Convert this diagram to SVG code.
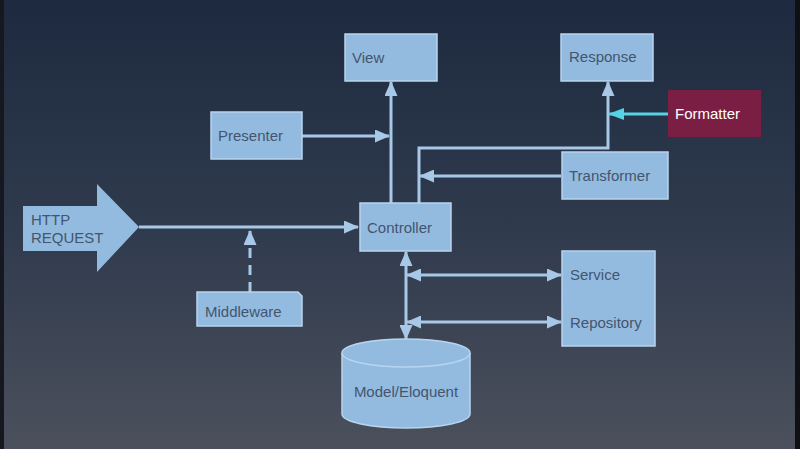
<svg xmlns="http://www.w3.org/2000/svg" width="800" height="449" viewBox="0 0 800 449">
<defs>
<linearGradient id="bg" x1="0" y1="0" x2="0" y2="1">
<stop offset="0" stop-color="#1d2a3f"/>
<stop offset="0.5" stop-color="#2f3a4d"/>
<stop offset="1" stop-color="#4b505c"/>
</linearGradient>
<marker id="ah" viewBox="0 0 15 13" refX="14" refY="6.5" markerWidth="15" markerHeight="13" markerUnits="userSpaceOnUse" orient="auto-start-reverse">
<path d="M0,0 L15,6.5 L0,13 Z" fill="#a7c8e6"/>
</marker>
<marker id="ahc" viewBox="0 0 16 12" refX="15" refY="6" markerWidth="16" markerHeight="12" markerUnits="userSpaceOnUse" orient="auto-start-reverse">
<path d="M0,0 L16,6 L0,12 Z" fill="#56d2e6"/>
</marker>
</defs>
<style>
.box{fill:#93bbe0;stroke:#b9d4ee;stroke-width:1.5}
.t{font-family:"Liberation Sans",Arial,sans-serif;font-size:15px;fill:#44556d}
.ln{fill:none;stroke:#a7c8e6;stroke-width:3}
</style>
<rect x="0" y="0" width="800" height="449" fill="url(#bg)"/>
<rect x="0" y="0" width="4" height="449" fill="#15181e"/>
<rect x="795" y="0" width="5" height="449" fill="#0e1014"/>

<g id="connectors">
<path class="ln" d="M139,227 L358,227" marker-end="url(#ah)"/>
<path class="ln" d="M250,292 L250,231" stroke-dasharray="10,7" marker-end="url(#ah)"/>
<path class="ln" d="M391,203 L391,82" marker-end="url(#ah)"/>
<path class="ln" d="M302,136 L389,136" marker-end="url(#ah)"/>
<path class="ln" d="M419,203 L419,148 L608,148 L608,82" marker-end="url(#ah)"/>
<path class="ln" d="M561,176 L420,176" marker-end="url(#ah)"/>
<path d="M668,114 L609,114" fill="none" stroke="#56d2e6" stroke-width="3" marker-end="url(#ahc)"/>
<path class="ln" d="M406,252 L406,339" marker-start="url(#ah)" marker-end="url(#ah)"/>
<path class="ln" d="M407,275 L561,275" marker-start="url(#ah)" marker-end="url(#ah)"/>
<path class="ln" d="M407,322 L561,322" marker-start="url(#ah)" marker-end="url(#ah)"/>
</g>

<g id="http-request">
<path d="M23,206 L97,206 L97,184 L139,227 L97,272 L97,251 L23,251 Z" fill="#93bbe0"/>
<text class="t" x="31" y="225">HTTP</text>
<text class="t" x="31" y="243">REQUEST</text>
</g>
<g id="view">
<rect class="box" x="345" y="34" width="92" height="47"/>
<text class="t" x="352" y="63">View</text>
</g>
<g id="response">
<rect class="box" x="561" y="34" width="92" height="47"/>
<text class="t" x="569" y="62">Response</text>
</g>
<g id="formatter">
<rect x="668" y="90" width="93" height="47" fill="#7a1f43"/>
<text x="675" y="119" font-family="Liberation Sans,Arial,sans-serif" font-size="15" fill="#ffffff">Formatter</text>
</g>
<g id="presenter">
<rect class="box" x="211" y="112" width="91" height="47"/>
<text class="t" x="218" y="141">Presenter</text>
</g>
<g id="transformer">
<rect class="box" x="562" y="152" width="106" height="47"/>
<text class="t" x="569" y="181">Transformer</text>
</g>
<g id="controller">
<rect class="box" x="360" y="203" width="91" height="48"/>
<text class="t" x="367" y="233">Controller</text>
</g>
<g id="middleware">
<path class="box" d="M197,292 L298,292 L302,296 L302,326 L197,326 Z"/>
<text class="t" x="205" y="317">Middleware</text>
</g>
<g id="service-repository">
<rect class="box" x="562" y="251" width="93" height="95"/>
<text class="t" x="570" y="280">Service</text>
<text class="t" x="570" y="328">Repository</text>
</g>
<g id="model">
<path class="box" d="M342,353 A64,14 0 0 1 470,353 L470,414 A64,14 0 0 1 342,414 Z"/>
<path d="M342,353 A64,14 0 0 0 470,353" fill="none" stroke="#b9d4ee" stroke-width="1.5"/>
<text class="t" x="406" y="397" text-anchor="middle">Model/Eloquent</text>
</g>
</svg>
